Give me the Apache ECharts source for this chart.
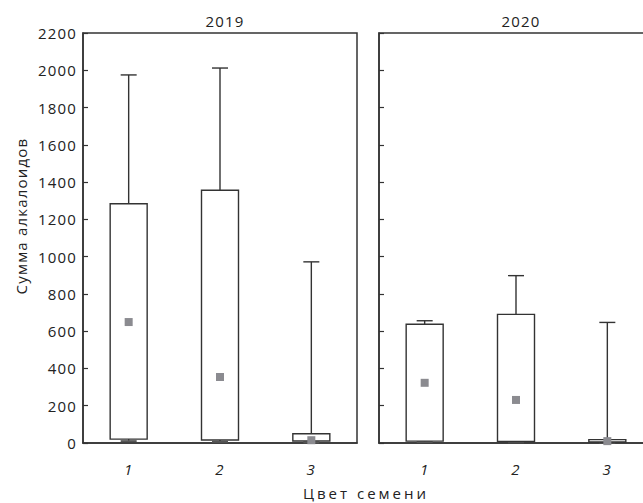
<!DOCTYPE html>
<html>
<head>
<meta charset="utf-8">
<script src="https://cdn.jsdelivr.net/npm/echarts@6/dist/echarts.min.js"></script>
<style>
html,body{margin:0;padding:0;background:#fff;}
#c{width:643px;height:503px;}
#c svg text{letter-spacing:1.2px;}
</style>
</head>
<body>
<div id="c"></div>
<script>
var categories = ['1', '2', '3'];
var years = ['2019', '2020'];
var yTicks = [0, 200, 400, 600, 800, 1000, 1200, 1400, 1600, 1800, 2000, 2200];
var xName = 'Цвет семени';
var yName = 'Сумма алкалоидов';

// 2019
var max2019 = [1975, 2012, 972];
var q3_2019 = [1284, 1356, 50];
var q1_2019 = [21, 16, 11];
var min2019 = [10, 6, 3];
var mark2019 = [649, 354, 15];

// 2020
var max2020 = [656, 898, 647];
var q3_2020 = [637, 690, 18];
var q1_2020 = [10, 8, 5];
var min2020 = [5, 4, 2];
var mark2020 = [323, 231, 10];

function build(mx, q3, q1, mn, mk) {
  return categories.map(function (c, i) { return [i, mn[i], q1[i], q3[i], mx[i], mk[i]]; });
}

var LINE = '#333333';
var TXT = '#222222';
var FONT = 'Open Sans';

function renderBox(params, api) {
  var x = api.value(0);
  var pMin = api.coord([x, api.value(1)]);
  var pQ1 = api.coord([x, api.value(2)]);
  var pQ3 = api.coord([x, api.value(3)]);
  var pMax = api.coord([x, api.value(4)]);
  var pMk = api.coord([x, api.value(5)]);
  var cx = pQ1[0];
  var bw = 37, cw = 16, ms = 8;
  var st = { stroke: LINE, lineWidth: 1.4, fill: null };
  return {
    type: 'group',
    children: [
      { type: 'line', shape: { x1: cx, y1: pQ3[1], x2: cx, y2: pMax[1] }, style: st },
      { type: 'line', shape: { x1: cx - cw / 2, y1: pMax[1], x2: cx + cw / 2, y2: pMax[1] }, style: st },
      { type: 'line', shape: { x1: cx, y1: pQ1[1], x2: cx, y2: pMin[1] }, style: st },
      { type: 'line', shape: { x1: cx - cw / 2, y1: pMin[1], x2: cx + cw / 2, y2: pMin[1] }, style: { stroke: '#555', lineWidth: 2 } },
      { type: 'rect', shape: { x: cx - bw / 2, y: pQ3[1], width: bw, height: Math.max(pQ1[1] - pQ3[1], 1) }, style: { stroke: LINE, lineWidth: 1.4, fill: '#fff' } },
      { type: 'rect', shape: { x: cx - ms / 2, y: pMk[1] - ms / 2, width: ms, height: ms }, style: { fill: '#8b8b90' } }
    ]
  };
}

var grids = [
  { left: 83, top: 33, width: 274, height: 410 },
  { left: 379, top: 33, width: 274, height: 410 }
];

var option = {
  animation: false,
  title: years.map(function (y, i) {
    return { text: y, left: grids[i].left + grids[i].width / 2, top: 8, textAlign: 'center',
      textStyle: { fontFamily: FONT, fontSize: 15, fontWeight: 'normal', color: TXT } };
  }),
  grid: grids.map(function (g) {
    return Object.assign({ show: true, borderColor: LINE, borderWidth: 1.5, backgroundColor: 'transparent',
      containLabel: false, outerBoundsMode: 'none' }, g);
  }),
  xAxis: grids.map(function (g, i) {
    return {
      type: 'category', gridIndex: i, data: categories, boundaryGap: true,
      axisLine: { show: true, lineStyle: { color: LINE, width: 1.5 } },
      axisTick: { show: false },
      axisLabel: { margin: 18, fontFamily: FONT, fontSize: 15, fontStyle: 'italic', color: TXT },
      splitLine: { show: false }
    };
  }),
  yAxis: grids.map(function (g, i) {
    return {
      type: 'value', gridIndex: i, min: 0, max: 2200, interval: 200,
      axisLine: { show: true, lineStyle: { color: LINE, width: 1.5 } },
      axisTick: { show: true, inside: true, length: 5, lineStyle: { color: LINE, width: 1.2 } },
      axisLabel: { show: i === 0, margin: 6, fontFamily: FONT, fontSize: 15, color: TXT,
        formatter: function (v) { return yTicks.indexOf(v) >= 0 ? String(v) : ''; } },
      splitLine: { show: false }
    };
  }),
  graphic: [
    { type: 'text', x: 366, y: 493, id: 'xname',
      style: { text: xName, fontFamily: FONT, fontSize: 15, fill: TXT, align: 'center', verticalAlign: 'middle' } },
    { type: 'text', x: 21, y: 216, rotation: Math.PI / 2, id: 'yname',
      style: { text: yName, fontFamily: FONT, fontSize: 15, fill: TXT, align: 'center', verticalAlign: 'middle' } }
  ],
  series: [
    { type: 'custom', xAxisIndex: 0, yAxisIndex: 0, renderItem: renderBox, encode: { x: 0, y: [1, 2, 3, 4, 5] },
      data: build(max2019, q3_2019, q1_2019, min2019, mark2019) },
    { type: 'custom', xAxisIndex: 1, yAxisIndex: 1, renderItem: renderBox, encode: { x: 0, y: [1, 2, 3, 4, 5] },
      data: build(max2020, q3_2020, q1_2020, min2020, mark2020) }
  ]
};

var el = document.getElementById('c');
var chart = echarts.init(el, null, { renderer: 'svg' });
chart.setOption(option);
function track() {
  var ts = el.querySelectorAll('text');
  for (var i = 0; i < ts.length; i++) {
    if (ts[i].textContent === xName) ts[i].style.letterSpacing = '3px';
  }
}
track();
chart.on('finished', track);
</script>
</body>
</html>
